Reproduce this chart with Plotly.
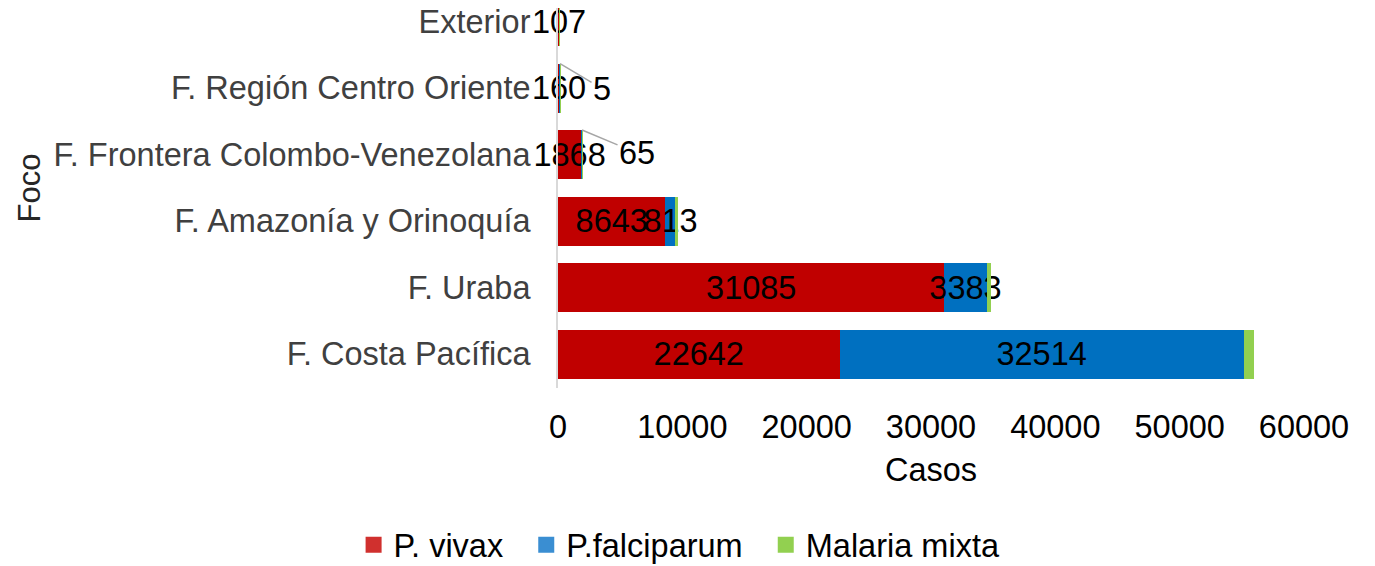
import plotly.graph_objects as go

categories = ["F. Costa Pacífica", "F. Uraba", "F. Amazonía y Orinoquía",
              "F. Frontera Colombo-Venezolana", "F. Región Centro Oriente", "Exterior"]
vivax = [22642, 31085, 8643, 1868, 160, 107]
falciparum = [32514, 3383, 813, 65, 5, 0]
mixta = [850, 320, 160, 60, 25, 20]

series_names = ["P. vivax", "P.falciparum", "Malaria mixta"]
vivax_labels = [str(v) for v in vivax]
falc_labels = ["32514", "3383", "813", "", "", ""]

x_ticks = [0, 10000, 20000, 30000, 40000, 50000, 60000]

RED = "#C00000"
BLUE = "#0070C0"
GREEN = "#92D050"
LEG_COLORS = ["#D0302E", "#3A8ED2", "#92D050"]
FONT = "Liberation Sans, Arial, sans-serif"
FS = 32.5
NB = "\u00a0\u00a0"

fig = go.Figure()
fig.add_trace(go.Bar(
    y=categories, x=vivax, orientation="h", name=series_names[0], showlegend=False,
    marker=dict(color=RED, line=dict(width=0)),
    text=vivax_labels, textposition="inside", insidetextanchor="middle",
    textangle=0, insidetextfont=dict(color="black", size=FS, family=FONT),
    cliponaxis=False,
))
fig.add_trace(go.Bar(
    y=categories, x=falciparum, orientation="h", name=series_names[1], showlegend=False,
    marker=dict(color=BLUE, line=dict(width=0)),
    text=falc_labels, textposition="inside", insidetextanchor="middle",
    textangle=0, insidetextfont=dict(color="black", size=FS, family=FONT),
    cliponaxis=False,
))
fig.add_trace(go.Bar(
    y=categories, x=mixta, orientation="h", name=series_names[2], showlegend=False,
    marker=dict(color=GREEN, line=dict(width=0)),
    cliponaxis=False,
))
# legend entries (square swatches like the original)
for i, nm in enumerate(series_names):
    fig.add_trace(go.Scatter(
        x=[None], y=[None], mode="markers", name=nm + (NB if i < 2 else ""),
        marker=dict(symbol="square", size=16, color=LEG_COLORS[i], line=dict(width=0)),
        showlegend=True, hoverinfo="skip",
    ))

annotations = []
# leader-line labels for tiny falciparum segments
for idx, (ax_off, ay_off) in [(3, (55, 23)), (4, (42, 25))]:
    annotations.append(dict(
        x=vivax[idx] + falciparum[idx], y=idx + 0.368, xref="x", yref="y",
        text=str(falciparum[idx]), showarrow=True, arrowhead=0, arrowwidth=1.5,
        arrowcolor="#A6A6A6", ax=ax_off, ay=ay_off,
        font=dict(size=FS, color="black", family=FONT),
    ))
# axis titles
annotations.append(dict(x=0.5, y=0.1823, xref="paper", yref="paper", text="Casos",
                        showarrow=False, font=dict(size=FS, color="#000000", family=FONT),
                        xanchor="center", yanchor="middle"))
annotations.append(dict(x=-0.708, y=0.682, xref="paper", yref="paper", text="Foco",
                        showarrow=False, textangle=-90,
                        font=dict(size=31, color="#262626", family=FONT),
                        xanchor="center", yanchor="middle"))

fig.update_layout(
    barmode="stack",
    bargap=0.263,
    width=1367, height=565,
    margin=dict(l=550, r=71, t=0, b=0, pad=0),
    paper_bgcolor="white", plot_bgcolor="rgba(0,0,0,0)",
    font=dict(family=FONT, size=FS, color="#000000"),
    uniformtext=dict(minsize=FS, mode="show"),
    showlegend=True,
    legend=dict(orientation="h", x=-0.274, xanchor="left", y=0.0, yanchor="bottom",
                font=dict(size=FS, color="#000000", family=FONT),
                traceorder="normal", itemwidth=30, itemsizing="trace",
                bgcolor="rgba(0,0,0,0)"),
    annotations=annotations,
    xaxis=dict(range=[0, 60000], tickvals=x_ticks, ticktext=[str(t) for t in x_ticks],
               showgrid=False, zeroline=False, showline=False,
               tickfont=dict(size=FS, color="#000000", family=FONT),
               ticks="", ticklabelstandoff=16, automargin=False, fixedrange=True),
    yaxis=dict(categoryorder="array", categoryarray=categories,
               domain=[0.3274, 1.0],
               range=[-0.511, 5.203], showgrid=False, zeroline=False,
               showline=True, linecolor="#D9D9D9", linewidth=2,
               tickfont=dict(size=FS, color="#404040", family=FONT),
               ticks="", ticklabelstandoff=19, automargin=False, fixedrange=True),
)

fig.write_html("out.html")
